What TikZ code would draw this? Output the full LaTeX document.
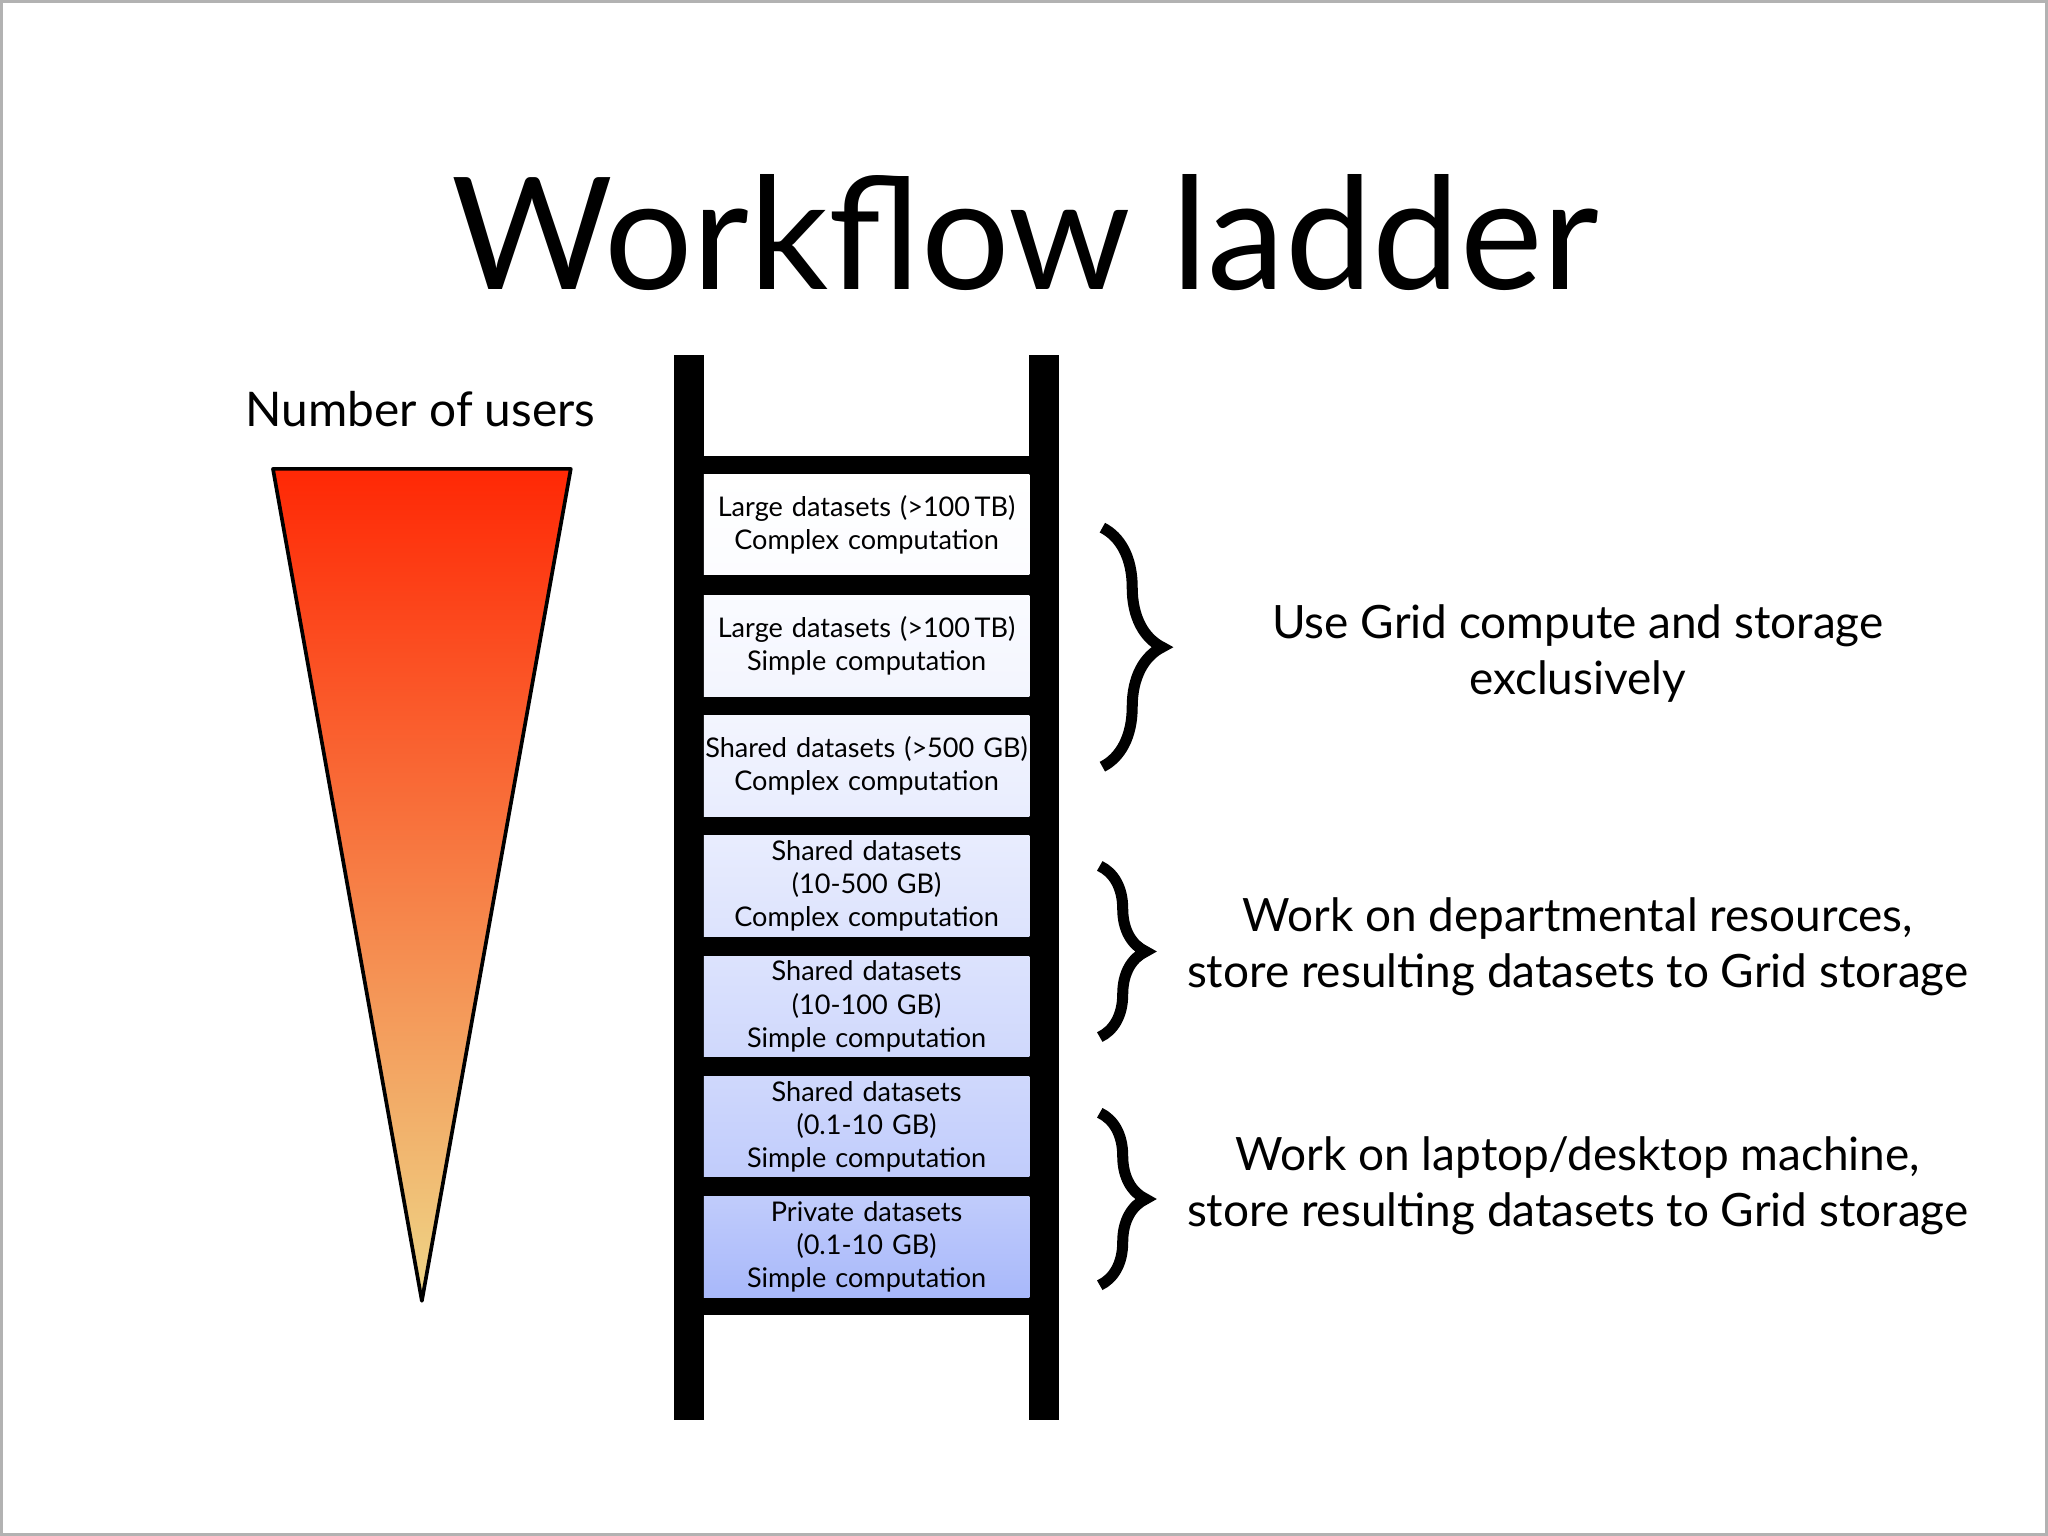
\documentclass[tikz,border=0pt]{standalone}
\usepackage{fontspec}
\setmainfont{Lato}
\usetikzlibrary{decorations.pathreplacing}
\definecolor{topred}{RGB}{255,40,5}
\definecolor{botyel}{RGB}{238,214,135}
\definecolor{lblue}{RGB}{168,184,250}
\tikzset{
  rung/.style={fill=black,draw=none},
  stepbox/.style={draw=none,minimum width=2.49cm,text width=2.49cm,minimum height=0.77cm,inner sep=0pt,align=center,font=\fontsize{5.9pt}{7.2pt}\selectfont},
  grp/.style={decorate,decoration={brace,amplitude=10pt},line width=2.4pt},
  side/.style={align=center,font=\fontsize{10pt}{12.2pt}\selectfont}
}
\begin{document}
\begin{tikzpicture}[x=0.01cm,y=-0.01cm]
\useasboundingbox (0,0) rectangle (1568,1176);
\draw[gray!60,line width=0.6pt] (1,1) rectangle (1567,1175);
\node (title) at (785,178) {\fontsize{34pt}{40pt}\selectfont Workflow ladder};
\node (nu) at (322,313) {\fontsize{10.4pt}{12pt}\selectfont Number of users};
\shade[top color=topred,bottom color=botyel] (209,359) -- (437,359) -- (323,996) -- cycle;
\draw[line width=0.8pt,line join=round] (209,359) -- (437,359) -- (323,996) -- cycle;
% ladder
\fill[rung] (516,272) rectangle (539,1087);
\fill[rung] (788,272) rectangle (811,1087);
\fill[rung] (539,349) rectangle (788,1007);
\node[stepbox,top color=white,bottom color=lblue!4] (b1) at (663.5,401.5) {Large datasets (>100\,TB)\\Complex computation};
\node[stepbox,top color=lblue!6,bottom color=lblue!14] (b2) at (663.5,494.5) {Large datasets (>100\,TB)\\Simple computation};
\node[stepbox,top color=lblue!14,bottom color=lblue!26] (b3) at (663.5,586.5) {Shared datasets (>500 GB)\\Complex computation};
\node[stepbox,top color=lblue!26,bottom color=lblue!40] (b4) at (663.5,678.5) {Shared datasets (10-500 GB)\\Complex computation};
\node[stepbox,top color=lblue!40,bottom color=lblue!55] (b5) at (663.5,770.5) {Shared datasets (10-100 GB)\\Simple computation};
\node[stepbox,top color=lblue!55,bottom color=lblue!72] (b6) at (663.5,862.5) {Shared datasets (0.1-10 GB)\\Simple computation};
\node[stepbox,top color=lblue!72,bottom color=lblue] (b7) at (663.5,954.5) {Private datasets (0.1-10 GB)\\Simple computation};
% braces
\coordinate (g1t) at (844,404); \coordinate (g1b) at (844,587);
\coordinate (g2t) at (842,663); \coordinate (g2b) at (842,794);
\coordinate (g3t) at (842,852); \coordinate (g3b) at (842,984);
\draw[grp,decoration={amplitude=13pt}] (g1t) -- (g1b);
\draw[grp] (g2t) -- (g2b);
\draw[grp] (g3t) -- (g3b);
\node[side] (t1) at (1208,500) {Use Grid compute and storage\\exclusively};
\node[side] (t2) at (1208,725) {Work on departmental resources,\\store resulting datasets to Grid storage};
\node[side] (t3) at (1208,908) {Work on laptop/desktop machine,\\store resulting datasets to Grid storage};
\end{tikzpicture}
\end{document}
